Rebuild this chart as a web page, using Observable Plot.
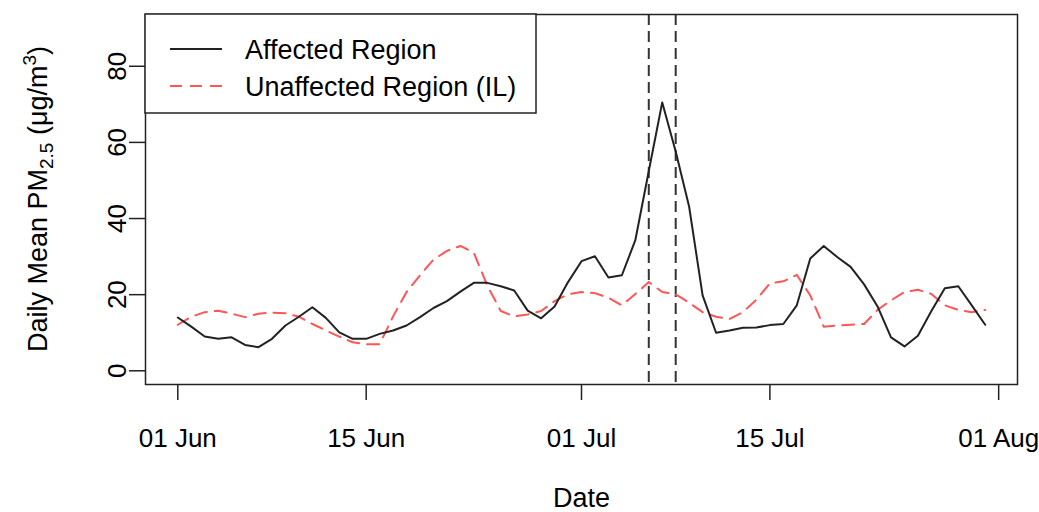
<!DOCTYPE html>
<html><head><meta charset="utf-8">
<script src="https://cdn.jsdelivr.net/npm/d3@7"></script>
<script src="https://cdn.jsdelivr.net/npm/@observablehq/plot@0.6"></script>
<style>body{margin:0;background:#fff;} #chart svg{display:block;}</style>
</head><body><div id="chart"></div>
<script>
const startDate = "2015-06-01";
const affected = [14, 11.6, 9.0, 8.4, 8.8, 6.8, 6.2, 8.4, 11.9, 14.2, 16.7, 13.9, 10.1, 8.4, 8.4, 9.7, 10.6, 11.9, 14.1, 16.5, 18.3, 20.8, 23.1, 23.1, 22.2, 21.1, 15.8, 13.8, 16.9, 23.3, 28.8, 30.1, 24.5, 25.1, 34.3, 52.5, 70.5, 57.6, 43.1, 19.8, 10.0, 10.6, 11.3, 11.4, 12.0, 12.3, 17.2, 29.5, 32.8, 29.9, 27.3, 22.7, 16.9, 8.8, 6.4, 9.2, 15.7, 21.7, 22.2, 17.2, 12.1];
const unaffected = [12.1, 14.2, 15.4, 15.8, 15.0, 14.1, 15.0, 15.3, 15.1, 14.2, 12.3, 10.6, 9.0, 7.5, 7.0, 7.0, 14.3, 20.7, 25.1, 29.2, 31.5, 32.8, 31.0, 22.4, 15.7, 14.3, 14.8, 15.7, 18.3, 20.1, 20.7, 20.4, 19.2, 17.2, 20.2, 23.3, 20.7, 20.1, 17.9, 15.4, 14.2, 13.6, 15.4, 18.7, 23.0, 23.5, 25.2, 19.8, 11.6, 11.9, 12.1, 12.3, 16.0, 18.5, 20.7, 21.3, 20.2, 17.2, 16.0, 15.4, 16.0];
const eventDates = ["2015-07-06", "2015-07-08"];
const xTickDates = ["2015-06-01", "2015-06-15", "2015-07-01", "2015-07-15", "2015-08-01"];
const xTickLabels = ["01 Jun", "15 Jun", "01 Jul", "15 Jul", "01 Aug"];
const yTicks = [0, 20, 40, 60, 80];
const yLimits = [0, 90];
const seriesNames = ["Affected Region", "Unaffected Region (IL)"];

const day0 = new Date(startDate);
const dates = affected.map((_, i) => d3.utcDay.offset(day0, i));
const rows = dates.map((date, i) => ({date, affected: affected[i], unaffected: unaffected[i]}));
const span = (+dates[dates.length - 1] - +dates[0]) * 0.04;
const xDomain = [new Date(+dates[0] - span), new Date(+dates[dates.length - 1] + span)];
const ypad = (yLimits[1] - yLimits[0]) * 0.04;
const yDomain = [yLimits[0] - ypad, yLimits[1] + ypad];
const xTicks = xTickDates.map(d => new Date(d));
const labelOf = new Map(xTicks.map((d, i) => [+d, xTickLabels[i]]));

const FONT = "'Liberation Sans', Arial, Helvetica, sans-serif";
const FS = 27;
const TFS = 26;
const RED = "#ff5555";
const BLK = "#222";

const svgNode = Plot.plot({
  width: 1039, height: 512,
  marginLeft: 145, marginRight: 22, marginTop: 14, marginBottom: 128,
  style: {fontFamily: FONT, fontSize: FS + "px", background: "#fff", color: "#000"},
  x: {type: "utc", domain: xDomain},
  y: {domain: yDomain},
  marks: [
    Plot.ruleX(eventDates.map(d => new Date(d)), {stroke: "#333", strokeWidth: 2, strokeDasharray: "11,6"}),
    Plot.line(rows, {x: "date", y: "unaffected", stroke: RED, strokeWidth: 2, strokeDasharray: "12,8"}),
    Plot.line(rows, {x: "date", y: "affected", stroke: BLK, strokeWidth: 2}),
    Plot.frame({stroke: BLK, strokeWidth: 1.5}),
    Plot.axisX(xTicks, {anchor: "bottom", tickSize: 16, tickPadding: 28, strokeWidth: 1.5, stroke: BLK,
      tickFormat: d => labelOf.get(+d), fontSize: TFS, fill: "#000", label: null}),
    Plot.axisY(yTicks, {anchor: "left", tickSize: 16, strokeWidth: 1.5, stroke: BLK, tickFormat: () => "", label: null}),
    Plot.text(yTicks, {y: d => d, text: d => String(d), frameAnchor: "left", dx: -20, rotate: -90,
      lineAnchor: "bottom", textAnchor: "middle", fontSize: TFS, fill: "#000"}),
    Plot.text(["Date"], {frameAnchor: "bottom", dy: 122, lineAnchor: "bottom", textAnchor: "middle", fontSize: FS, fill: "#000"})
  ]
});

const svg = d3.select(svgNode);
// y-axis title with subscript and superscript
const t = svg.append("text")
  .attr("transform", "translate(47,199) rotate(-90)")
  .attr("text-anchor", "middle")
  .attr("font-family", FONT)
  .attr("font-size", FS)
  .attr("fill", "#000");
t.append("tspan").text("Daily Mean PM");
t.append("tspan").attr("font-size", 19).attr("dy", 6).text("2.5");
t.append("tspan").attr("dy", -6).text(" (\u03BCg/m");
t.append("tspan").attr("font-size", 19).attr("dy", -11).text("3");
t.append("tspan").attr("dy", 11).text(")");

// legend
const lg = svg.append("g").attr("font-family", FONT).attr("font-size", FS).attr("text-anchor", "start");
lg.append("rect").attr("x", 145).attr("y", 14).attr("width", 391).attr("height", 99)
  .attr("fill", "#fff").attr("stroke", BLK).attr("stroke-width", 1.5);
const legendStyles = [{stroke: BLK, dash: null, y: 49}, {stroke: RED, dash: "12,8", y: 86}];
seriesNames.forEach((name, i) => {
  const s = legendStyles[i];
  const ln = lg.append("line").attr("x1", 170).attr("x2", 222).attr("y1", s.y).attr("y2", s.y)
    .attr("stroke", s.stroke).attr("stroke-width", 2);
  if (s.dash) ln.attr("stroke-dasharray", s.dash);
  lg.append("text").attr("x", 245).attr("y", s.y + 9.5).attr("text-anchor", "start").attr("fill", "#000").text(name);
});

document.getElementById("chart").appendChild(svgNode);
</script>
</body></html>
